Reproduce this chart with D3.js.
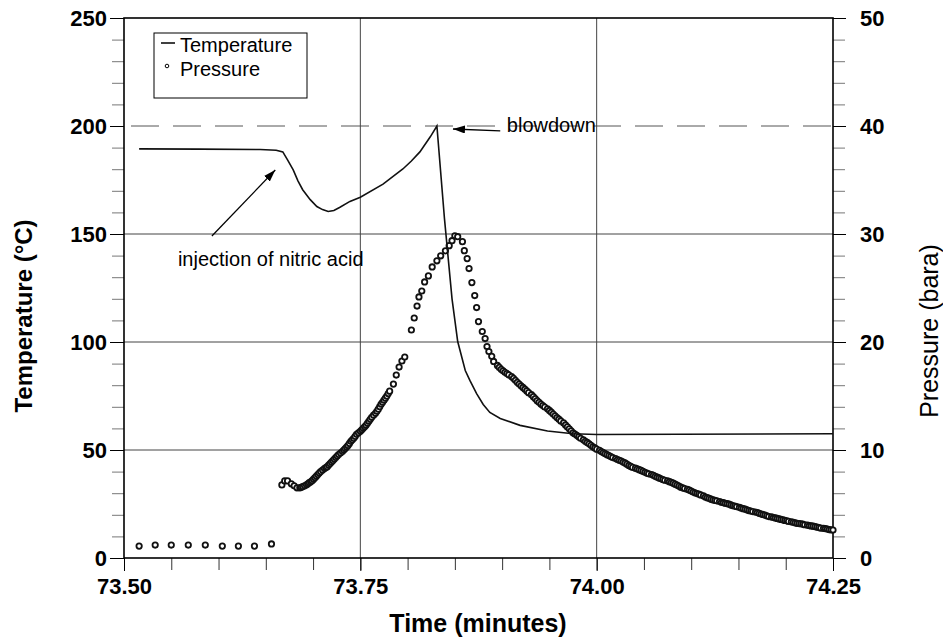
<!DOCTYPE html>
<html lang="en">
<head>
<meta charset="UTF-8">
<title>Temperature and pressure at blowdown</title>
<script src="https://cdn.jsdelivr.net/npm/d3@7"></script>
<style>
  body { margin: 0; background: #fff; }
  svg { display: block; font-family: "Liberation Sans", Arial, sans-serif; }
</style>
</head>
<body>
<svg width="943" height="639"></svg>
<script>
// tick labels
const timeTicks = [73.50, 73.75, 74.00, 74.25];
const tempTicks = [0, 50, 100, 150, 200, 250];
const pressTicks = [0, 10, 20, 30, 40, 50];

// temperature trace (deg C)
const tempTime = [73.516, 73.580, 73.644, 73.661, 73.668, 73.673, 73.679, 73.684, 73.689, 73.697,
  73.704, 73.710, 73.716, 73.722, 73.728, 73.739, 73.750, 73.774, 73.795, 73.804, 73.813, 73.824,
  73.831, 73.839, 73.847, 73.853, 73.861, 73.866, 73.873, 73.880, 73.887, 73.898, 73.919, 73.948,
  73.975, 74.000, 74.088, 74.250];
const tempValue = [189.4, 189.3, 189.1, 188.8, 188.0, 184.3, 179.7, 174.6, 170.5, 165.9,
  162.7, 161.3, 160.4, 160.9, 162.3, 165.1, 167.0, 173.1, 180.1, 183.8, 188.0, 195.0,
  200.0, 157.1, 120.0, 100.2, 86.8, 82.1, 76.1, 71.1, 67.4, 64.6, 61.4, 58.8,
  57.5, 57.2, 57.3, 57.5];

// pressure readings (bara)
const pressTime = [
  73.516, 73.533, 73.550, 73.568, 73.586, 73.604, 73.621, 73.638, 73.656,
  73.667, 73.670, 73.673, 73.677, 73.680, 73.683, 73.686, 73.689, 73.693, 73.696,
  73.699, 73.702, 73.705, 73.708, 73.712, 73.715, 73.718, 73.721, 73.724, 73.727,
  73.731, 73.734, 73.737, 73.740, 73.743, 73.746, 73.750, 73.753, 73.756, 73.759,
  73.762, 73.766, 73.769, 73.772, 73.775, 73.778, 73.781, 73.785, 73.788, 73.791,
  73.794, 73.797,
  73.804, 73.807, 73.810, 73.812, 73.815, 73.818, 73.822, 73.826, 73.831, 73.835,
  73.840, 73.844, 73.847, 73.850, 73.853, 73.858, 73.860, 73.863, 73.865, 73.868,
  73.871, 73.873, 73.875, 73.879, 73.882, 73.884, 73.886, 73.889, 73.891,
  73.895, 73.899, 73.903, 73.907, 73.912, 73.916, 73.920, 73.924, 73.928, 73.933,
  73.937, 73.941, 73.945, 73.950, 73.954, 73.958, 73.962, 73.967, 73.971, 73.975,
  73.979, 73.983, 73.988, 73.992, 73.996, 74.000, 74.005, 74.009, 74.013, 74.017,
  74.022, 74.026, 74.030, 74.034, 74.038, 74.043, 74.047, 74.051, 74.055, 74.060,
  74.064, 74.068, 74.072, 74.077, 74.081, 74.085, 74.089, 74.093, 74.098, 74.102,
  74.106, 74.110, 74.115, 74.119, 74.123, 74.127, 74.132, 74.136, 74.140, 74.144,
  74.148, 74.153, 74.157, 74.161, 74.165, 74.170, 74.174, 74.178, 74.182, 74.187,
  74.191, 74.195, 74.199, 74.203, 74.208, 74.212, 74.216, 74.220, 74.225, 74.229,
  74.233, 74.237, 74.242, 74.246, 74.250];
const pressValue = [
  1.1, 1.2, 1.2, 1.2, 1.2, 1.1, 1.1, 1.1, 1.3,
  6.77, 7.14, 7.14, 6.87, 6.68, 6.50, 6.50, 6.60, 6.78, 6.97,
  7.16, 7.44, 7.72, 8.00, 8.28, 8.46, 8.74, 9.02, 9.30, 9.58,
  9.86, 10.14, 10.42, 10.80, 11.08, 11.45, 11.73, 12.01, 12.29, 12.66,
  13.03, 13.40, 13.78, 14.24, 14.61, 14.99, 15.45, 16.10, 16.94, 17.68,
  18.24, 18.61,
  21.11, 22.22, 23.33, 24.17, 24.72, 25.56, 26.12, 26.95, 27.52, 27.98,
  28.44, 28.92, 29.38, 29.84, 29.75, 29.29, 28.46, 27.72, 26.80, 25.50,
  24.30, 23.19, 21.89, 20.97, 20.32, 19.58, 19.12, 18.67, 18.20,
  17.83, 17.47, 17.19, 16.96, 16.64, 16.27, 15.95, 15.63, 15.31, 14.94,
  14.57, 14.25, 13.98, 13.66, 13.33, 13.01, 12.69, 12.32, 11.96, 11.59,
  11.36, 11.08, 10.81, 10.58, 10.30, 10.08, 9.85, 9.66, 9.48, 9.30,
  9.12, 8.98, 8.80, 8.57, 8.39, 8.25, 8.11, 7.93, 7.79, 7.66,
  7.48, 7.34, 7.20, 7.07, 6.93, 6.75, 6.56, 6.43, 6.29, 6.11,
  5.97, 5.84, 5.65, 5.52, 5.38, 5.29, 5.16, 5.07, 4.98, 4.84,
  4.75, 4.61, 4.52, 4.39, 4.30, 4.21, 4.07, 3.98, 3.84, 3.75,
  3.66, 3.57, 3.48, 3.39, 3.30, 3.21, 3.17, 3.08, 2.99, 2.95,
  2.86, 2.77, 2.72, 2.63, 2.59];

// further readings where the logged samples crowd into a solid band
const bandTime = [
  73.6875, 73.691, 73.6945, 73.6975, 73.7005, 73.7035, 73.7065, 73.710, 73.7135, 73.7165,
  73.7195, 73.7225, 73.7255, 73.729, 73.7325, 73.7355, 73.7385, 73.7415, 73.7445, 73.748,
  73.7515, 73.7545, 73.7575, 73.7605, 73.764, 73.7675, 73.7705, 73.7735, 73.7765, 73.7795,
  73.897, 73.901, 73.905, 73.910, 73.914, 73.918, 73.922, 73.926, 73.931, 73.935,
  73.939, 73.943, 73.948, 73.952, 73.956, 73.960, 73.965, 73.969, 73.973, 73.977,
  73.981, 73.986, 73.990, 73.994, 73.998, 74.003, 74.007, 74.011, 74.015, 74.020,
  74.024, 74.028, 74.032, 74.036, 74.041, 74.045, 74.049, 74.053, 74.058, 74.062,
  74.066, 74.070, 74.075, 74.079, 74.083, 74.087, 74.091, 74.096, 74.100, 74.104,
  74.108, 74.113, 74.117, 74.121, 74.125, 74.130, 74.134, 74.138, 74.142, 74.146,
  74.151, 74.155, 74.159, 74.163, 74.168, 74.172, 74.176, 74.180, 74.185, 74.189,
  74.193, 74.197, 74.201, 74.206, 74.210, 74.214, 74.218, 74.223, 74.227, 74.231,
  74.235, 74.240, 74.244, 74.248];
const bandValue = [
  6.55, 6.69, 6.87, 7.06, 7.30, 7.58, 7.86, 8.14, 8.37, 8.60,
  8.88, 9.16, 9.44, 9.72, 10.00, 10.28, 10.61, 10.94, 11.26, 11.59,
  11.87, 12.15, 12.47, 12.84, 13.22, 13.59, 14.01, 14.42, 14.80, 15.22,
  17.65, 17.33, 17.08, 16.80, 16.46, 16.11, 15.79, 15.47, 15.12, 14.76,
  14.41, 14.12, 13.82, 13.50, 13.17, 12.85, 12.51, 12.14, 11.78, 11.48,
  11.22, 10.95, 10.70, 10.44, 10.19, 9.97, 9.76, 9.57, 9.39, 9.21,
  9.05, 8.89, 8.69, 8.48, 8.32, 8.18, 8.02, 7.86, 7.73, 7.57,
  7.41, 7.27, 7.14, 7.00, 6.84, 6.66, 6.50, 6.36, 6.20, 6.04,
  5.91, 5.75, 5.59, 5.45, 5.34, 5.23, 5.12, 5.03, 4.91, 4.80,
  4.68, 4.57, 4.46, 4.35, 4.26, 4.14, 4.03, 3.91, 3.80, 3.71,
  3.62, 3.53, 3.44, 3.35, 3.26, 3.19, 3.13, 3.04, 2.97, 2.91,
  2.82, 2.75, 2.68, 2.61];

const svg = d3.select("svg"),
      margin = {top: 18, right: 110, bottom: 81, left: 124},
      width = +svg.attr("width") - margin.left - margin.right,
      height = +svg.attr("height") - margin.top - margin.bottom,
      g = svg.append("g").attr("transform", `translate(${margin.left},${margin.top})`);

const x = d3.scaleLinear().domain([73.5, 74.25]).range([0, width]);
const yT = d3.scaleLinear().domain([0, 250]).range([height, 0]);
const yP = d3.scaleLinear().domain([0, 50]).range([height, 0]);

// grid
g.selectAll(".hgrid").data(tempTicks.filter(d => d > 0 && d < 200))
  .join("line")
  .attr("x1", 0).attr("x2", width)
  .attr("y1", d => yT(d)).attr("y2", d => yT(d))
  .attr("stroke", "#444").attr("stroke-width", 1);
g.append("line")
  .attr("x1", 7).attr("x2", width)
  .attr("y1", yT(200)).attr("y2", yT(200))
  .attr("stroke", "#555").attr("stroke-width", 1)
  .attr("stroke-dasharray", "28,14");
g.selectAll(".vgrid").data(timeTicks.slice(1, -1))
  .join("line")
  .attr("x1", d => x(d)).attr("x2", d => x(d))
  .attr("y1", 0).attr("y2", height)
  .attr("stroke", "#444").attr("stroke-width", 1);

// axes
const noDomain = a => a.select(".domain").remove();
const styleLabels = a => a.selectAll("text")
  .style("font-size", "22px").style("font-weight", "bold").attr("fill", "#000");

g.append("g")
  .call(d3.axisLeft(yT).tickValues(d3.range(0, 251, 10)).tickSize(12).tickFormat(() => ""))
  .call(noDomain).selectAll("line").attr("stroke", "#777");
g.append("g")
  .call(d3.axisLeft(yT).tickValues(tempTicks).tickSize(14).tickPadding(3))
  .call(noDomain).call(styleLabels);

g.append("g").attr("transform", `translate(${width},0)`)
  .call(d3.axisRight(yP).tickValues(d3.range(0, 51, 2)).tickSize(12).tickFormat(() => ""))
  .call(noDomain).selectAll("line").attr("stroke", "#777");
g.append("g").attr("transform", `translate(${width},0)`)
  .call(d3.axisRight(yP).tickValues(pressTicks).tickSize(13).tickPadding(14))
  .call(noDomain).call(styleLabels);

g.append("g").attr("transform", `translate(0,${height})`)
  .call(d3.axisBottom(x).tickValues(d3.range(0, 16).map(i => 73.5 + i * 0.05)).tickSize(12).tickFormat(() => ""))
  .call(noDomain).selectAll("line").attr("stroke", "#333");
g.append("g").attr("transform", `translate(0,${height})`)
  .call(d3.axisBottom(x).tickValues(timeTicks).tickSize(13).tickPadding(7).tickFormat(d3.format(".2f")))
  .call(noDomain).call(styleLabels);

// frame
g.append("rect")
  .attr("width", width).attr("height", height)
  .attr("fill", "none").attr("stroke", "#000").attr("stroke-width", 1.6);

// pressure
const pressData = pressTime.map((t, i) => ({t, v: pressValue[i]}))
  .concat(bandTime.map((t, i) => ({t, v: bandValue[i]})))
  .sort((a, b) => a.t - b.t);
g.append("g").selectAll("circle").data(pressData)
  .join("circle")
  .attr("cx", d => x(d.t)).attr("cy", d => yP(d.v))
  .attr("r", 2.7)
  .attr("fill", "#fff").attr("stroke", "#111").attr("stroke-width", 1.8);

// temperature
const tempData = tempTime.map((t, i) => ({t, v: tempValue[i]}));
g.append("path").datum(tempData)
  .attr("fill", "none").attr("stroke", "#111").attr("stroke-width", 1.6)
  .attr("d", d3.line().x(d => x(d.t)).y(d => yT(d.v)));

// annotations
svg.append("defs").append("marker")
  .attr("id", "arrow").attr("viewBox", "0 0 12 8")
  .attr("refX", 12).attr("refY", 4)
  .attr("markerWidth", 12).attr("markerHeight", 8)
  .attr("markerUnits", "userSpaceOnUse").attr("orient", "auto")
  .append("path").attr("d", "M0,0L12,4L0,8z").attr("fill", "#000");

g.append("line")
  .attr("x1", x(73.898)).attr("y1", yT(197.7))
  .attr("x2", x(73.848)).attr("y2", yT(198.6))
  .attr("stroke", "#000").attr("stroke-width", 1.3).attr("marker-end", "url(#arrow)");
g.append("text")
  .attr("x", x(73.905)).attr("y", yT(197.2))
  .style("font-size", "20px").text("blowdown");

g.append("line")
  .attr("x1", x(73.593)).attr("y1", yT(149.1))
  .attr("x2", x(73.660)).attr("y2", yT(179.6))
  .attr("stroke", "#000").attr("stroke-width", 1.3).attr("marker-end", "url(#arrow)");
g.append("text")
  .attr("x", x(73.557)).attr("y", yT(135.2))
  .style("font-size", "20px").text("injection of nitric acid");

// legend
const legend = svg.append("g").attr("transform", "translate(154,33)");
legend.append("rect").attr("width", 153).attr("height", 65)
  .attr("fill", "#fff").attr("stroke", "#000").attr("stroke-width", 1);
legend.append("line").attr("x1", 7).attr("x2", 21).attr("y1", 10).attr("y2", 10)
  .attr("stroke", "#000").attr("stroke-width", 1.5);
legend.append("circle").attr("cx", 13).attr("cy", 33).attr("r", 1.8)
  .attr("fill", "#fff").attr("stroke", "#000").attr("stroke-width", 1);
legend.append("text").attr("x", 26).attr("y", 19).style("font-size", "20px").text("Temperature");
legend.append("text").attr("x", 26).attr("y", 43).style("font-size", "20px").text("Pressure");

// axis titles
svg.append("text")
  .attr("transform", "translate(32,316) rotate(-90)")
  .attr("text-anchor", "middle")
  .style("font-size", "24px").style("font-weight", "bold")
  .text("Temperature (°C)");
svg.append("text")
  .attr("transform", "translate(938,331) rotate(-90)")
  .attr("text-anchor", "middle")
  .style("font-size", "25px")
  .text("Pressure (bara)");
svg.append("text")
  .attr("x", 478).attr("y", 632)
  .attr("text-anchor", "middle")
  .style("font-size", "25px").style("font-weight", "bold")
  .text("Time (minutes)");
</script>
</body>
</html>
